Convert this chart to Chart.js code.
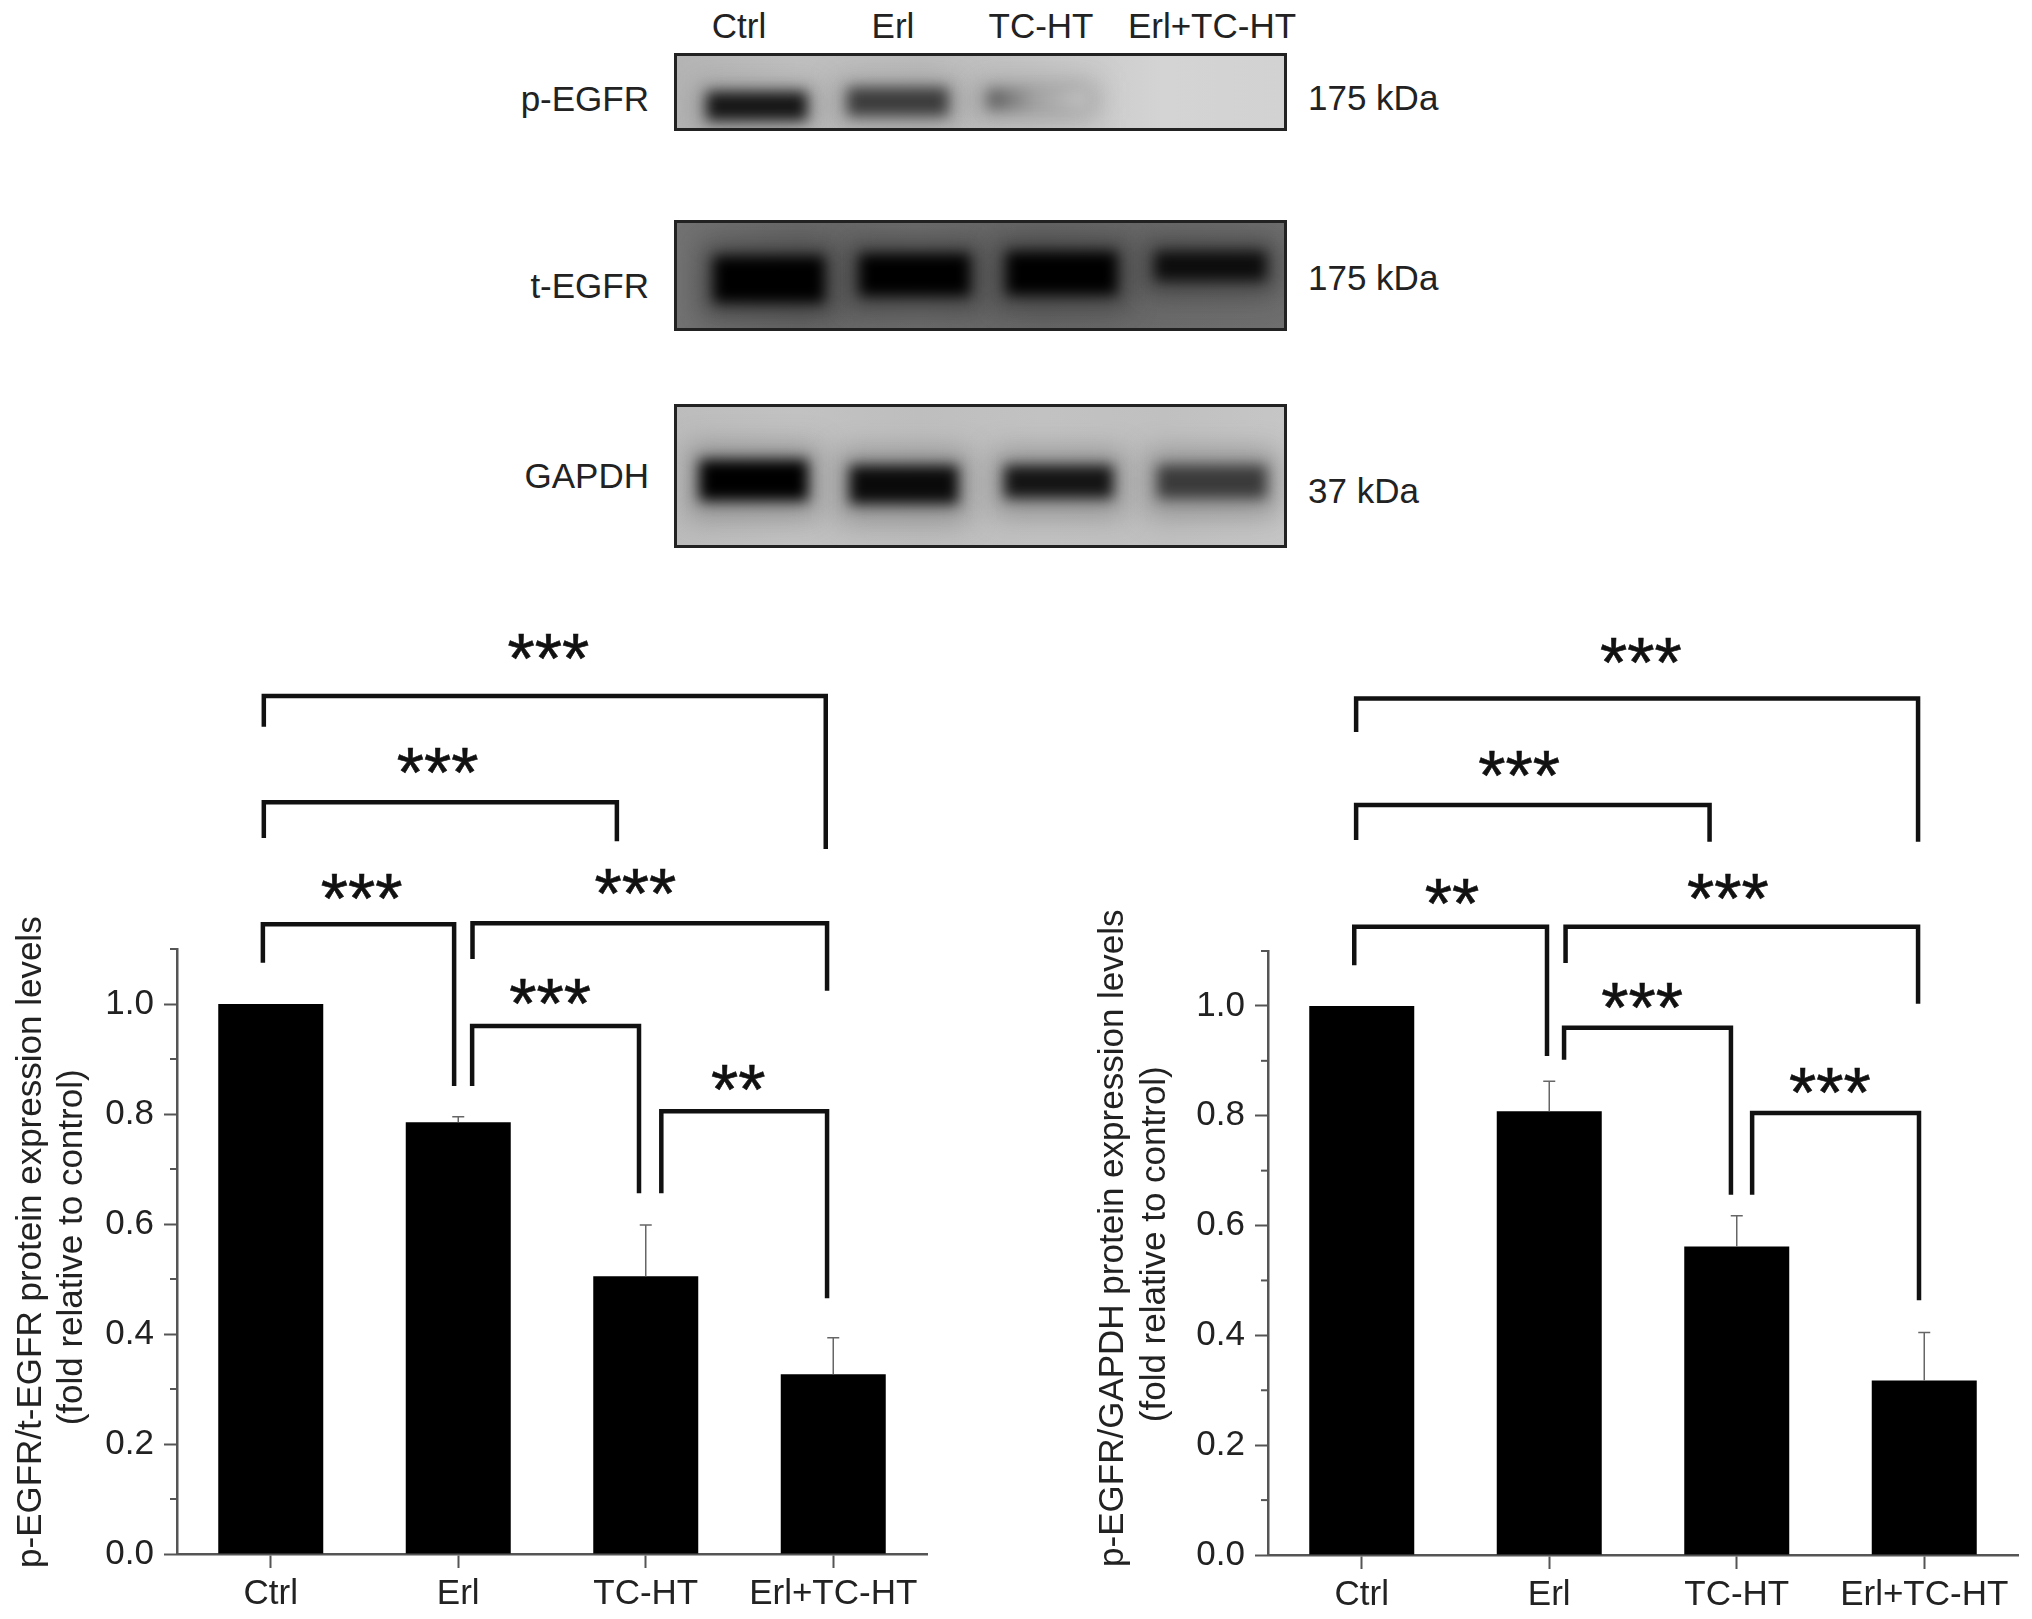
<!DOCTYPE html>
<html>
<head>
<meta charset="utf-8">
<title>p-EGFR western blot and quantification</title>
<script src="https://cdn.jsdelivr.net/npm/chart.js@4"></script>
<style>
    html, body { margin: 0; background: #fff; }
    body { position: relative; width: 2032px; height: 1619px; overflow: hidden; }
    canvas { position: absolute; }
    .lbl { position: absolute; font: 35px "Liberation Sans", Arial, sans-serif; color: #222; line-height: 40px; white-space: nowrap; }
</style>
</head>
<body>
<canvas id="blotP" style="left:674px;top:53px"></canvas>
<canvas id="blotT" style="left:674px;top:220px"></canvas>
<canvas id="blotG" style="left:674px;top:404px"></canvas>
<canvas id="barsLeft" style="left:0;top:600px"></canvas>
<canvas id="barsRight" style="left:1000px;top:600px"></canvas>

<script>
const categories = ['Ctrl', 'Erl', 'TC-HT', 'Erl+TC-HT'];
const yTicks = [0, 0.2, 0.4, 0.6, 0.8, 1.0];
const minorTicks = [0.1, 0.3, 0.5, 0.7, 0.9, 1.1];

// bar heights and upper error limits
const leftValues = [1.0, 0.785, 0.505, 0.327];
const leftErrTops = [null, 0.795, 0.598, 0.393];
const rightValues = [1.0, 0.808, 0.562, 0.318];
const rightErrTops = [null, 0.863, 0.618, 0.405];

// brackets: from lane, to lane, top, left foot, right foot (lane index / axis value)
const leftBrackets = [
    [-0.037, 2.96, 1.56, 1.504, 1.282],
    [-0.037, 1.846, 1.367, 1.302, 1.296],
    [-0.042, 0.978, 1.145, 1.075, 0.851],
    [1.076, 2.967, 1.147, 1.082, 1.024],
    [1.074, 1.964, 0.96, 0.851, 0.656],
    [2.083, 2.967, 0.805, 0.656, 0.465]
];
const rightBrackets = [
    [-0.03, 2.967, 1.56, 1.499, 1.299],
    [-0.03, 1.855, 1.366, 1.302, 1.299],
    [-0.04, 0.988, 1.144, 1.074, 0.909],
    [1.087, 2.967, 1.144, 1.078, 1.004],
    [1.079, 1.969, 0.96, 0.902, 0.656],
    [2.082, 2.972, 0.805, 0.656, 0.464]
];
// significance stars: text, lane, axis value
const leftStars = [
    ['***', 1.481, 1.647], ['***', 0.89, 1.44], ['***', 0.485, 1.211],
    ['***', 1.945, 1.22], ['***', 1.49, 1.02], ['**', 2.493, 0.865]
];
const rightStars = [
    ['***', 1.489, 1.645], ['***', 0.839, 1.439], ['**', 0.481, 1.206],
    ['***', 1.953, 1.215], ['***', 1.495, 1.016], ['***', 2.497, 0.862]
];

// blot bands, one per lane: lane position, then top and bottom as fractions of the blot height
const pLanes = [0.54, 1.46, 2.37, 3.5];
const pBandTops = [0.50, 0.45, 0.47, null];
const pBandBottoms = [0.86, 0.80, 0.72, null];
const tLanes = [0.62, 1.57, 2.53, 3.5];
const tBandTops = [0.33, 0.31, 0.29, 0.29];
const tBandBottoms = [0.74, 0.68, 0.67, 0.54];
const gLanes = [0.52, 1.50, 2.51, 3.51];
const gBandTops = [0.39, 0.43, 0.43, 0.43];
const gBandBottoms = [0.67, 0.69, 0.65, 0.65];

const FONT = '"Liberation Sans", Arial, sans-serif';

function addLabel(text, x, y, align) {
    const el = document.createElement('div');
    el.className = 'lbl';
    el.textContent = text;
    el.style.top = (y - 20) + 'px';
    if (align === 'right') el.style.right = (2032 - x) + 'px';
    else if (align === 'left') el.style.left = x + 'px';
    else { el.style.left = x + 'px'; el.style.transform = 'translateX(-50%)'; }
    document.body.appendChild(el);
}

// Blot: floating bars on a lane axis, blurred so they read as bands
function makeBlot(id, width, height, lanes, tops, bottoms, colors, thickness, haloColor, bgStops) {
    const canvas = document.getElementById(id);
    canvas.width = width;
    canvas.height = height;
    const bands = lanes.map((x, i) => ({ x: x, y: tops[i] === null ? null : [tops[i], bottoms[i]] }));
    const halo = lanes.map((x, i) => ({ x: x, y: tops[i] === null ? null : [tops[i] - 0.1, bottoms[i] + 0.12] }));
    new Chart(canvas, {
        type: 'bar',
        data: {
            datasets: [
                { data: bands, backgroundColor: colors, barThickness: thickness, grouped: false },
                { data: halo, backgroundColor: haloColor, barThickness: thickness + 22, grouped: false }
            ]
        },
        options: {
            responsive: false,
            animation: false,
            devicePixelRatio: 1,
            layout: { padding: 0 },
            plugins: { legend: { display: false }, tooltip: { enabled: false } },
            scales: {
                x: { type: 'linear', display: false, min: 0, max: 4, offset: false },
                y: { display: false, min: 0, max: 1, reverse: true }
            }
        },
        plugins: [{
            id: 'blotLook',
            beforeDraw(chart) {
                const ctx = chart.ctx;
                const g = ctx.createLinearGradient(0, 0, width, 0);
                bgStops.forEach((c, i) => g.addColorStop(i / (bgStops.length - 1), c));
                ctx.fillStyle = g;
                ctx.fillRect(0, 0, width, height);
            },
            beforeDatasetDraw(chart, args) {
                chart.ctx.filter = args.index === 0 ? 'blur(7px)' : 'blur(14px)';
            },
            afterDatasetDraw(chart) {
                chart.ctx.filter = 'none';
            },
            afterDraw(chart) {
                const ctx = chart.ctx;
                ctx.strokeStyle = '#222';
                ctx.lineWidth = 3;
                ctx.strokeRect(1.5, 1.5, width - 3, height - 3);
            }
        }]
    });
}

// Bar panel with error bars, minor ticks, brackets and stars
function makeBars(id, width, plotTop, xHeight, yWidth, padRight, values, errTops, brackets, stars, titleLines, titleXs, titleVals) {
    const canvas = document.getElementById(id);
    canvas.width = width;
    canvas.height = 1019;
    new Chart(canvas, {
        type: 'bar',
        data: {
            labels: categories,
            datasets: [{
                data: values,
                backgroundColor: '#000',
                categoryPercentage: 1,
                barPercentage: 0.56
            }]
        },
        options: {
            responsive: false,
            animation: false,
            devicePixelRatio: 1,
            layout: { padding: { top: plotTop, right: padRight, left: 0, bottom: 0 } },
            plugins: { legend: { display: false }, tooltip: { enabled: false } },
            scales: {
                x: {
                    afterFit(scale) { scale.height = xHeight; },
                    grid: { offset: false, drawOnChartArea: false, tickLength: 14, tickColor: '#555', tickWidth: 2 },
                    border: { color: '#555', width: 2.5 },
                    ticks: { color: '#222', font: { family: FONT, size: 35 }, padding: 5, autoSkip: false, maxRotation: 0 }
                },
                y: {
                    min: 0,
                    max: 1.1,
                    afterFit(scale) { scale.width = yWidth; },
                    afterBuildTicks(scale) { scale.ticks = yTicks.map(v => ({ value: v })); },
                    grid: { drawOnChartArea: false, tickLength: 13, tickColor: '#555', tickWidth: 2 },
                    border: { color: '#555', width: 2.5 },
                    ticks: {
                        color: '#222',
                        font: { family: FONT, size: 35 },
                        padding: 10,
                        callback: v => v.toFixed(1)
                    }
                }
            }
        },
        plugins: [{
            id: 'panelMarks',
            afterDraw(chart) {
                const ctx = chart.ctx;
                const xs = chart.scales.x;
                const ys = chart.scales.y;
                const left = chart.chartArea.left;

                // minor y ticks
                ctx.strokeStyle = '#555';
                ctx.lineWidth = 2;
                minorTicks.forEach(v => {
                    const y = ys.getPixelForValue(v);
                    ctx.beginPath();
                    ctx.moveTo(left - 7, y);
                    ctx.lineTo(left, y);
                    ctx.stroke();
                });

                // upper error bars
                ctx.strokeStyle = '#666';
                ctx.lineWidth = 1.5;
                errTops.forEach((top, i) => {
                    if (top === null) return;
                    const x = xs.getPixelForValue(i);
                    const y = ys.getPixelForValue(top);
                    ctx.beginPath();
                    ctx.moveTo(x, ys.getPixelForValue(values[i]));
                    ctx.lineTo(x, y);
                    ctx.moveTo(x - 6, y);
                    ctx.lineTo(x + 6, y);
                    ctx.stroke();
                });

                const laneX = v => xs.getPixelForValue(0) + v * (xs.getPixelForValue(1) - xs.getPixelForValue(0));

                // brackets
                ctx.strokeStyle = '#111';
                ctx.lineWidth = 4.5;
                ctx.lineJoin = 'miter';
                brackets.forEach(b => {
                    ctx.beginPath();
                    ctx.moveTo(laneX(b[0]), ys.getPixelForValue(b[3]));
                    ctx.lineTo(laneX(b[0]), ys.getPixelForValue(b[2]));
                    ctx.lineTo(laneX(b[1]), ys.getPixelForValue(b[2]));
                    ctx.lineTo(laneX(b[1]), ys.getPixelForValue(b[4]));
                    ctx.stroke();
                });

                // stars
                ctx.fillStyle = '#111';
                ctx.strokeStyle = '#111';
                ctx.lineWidth = 0.6;
                ctx.font = '70px ' + FONT;
                ctx.textAlign = 'center';
                ctx.textBaseline = 'middle';
                stars.forEach(s => {
                    const sx = laneX(s[1]);
                    const sy = ys.getPixelForValue(s[2]) + 16;
                    ctx.fillText(s[0], sx, sy);
                    ctx.strokeText(s[0], sx, sy);
                });

                // two line rotated axis title
                ctx.fillStyle = '#222';
                ctx.font = '35px ' + FONT;
                titleLines.forEach((line, i) => {
                    ctx.save();
                    ctx.translate(titleXs[i], ys.getPixelForValue(titleVals[i]));
                    ctx.rotate(-Math.PI / 2);
                    ctx.fillText(line, 0, 0);
                    ctx.restore();
                });
            }
        }]
    });
}

document.addEventListener('DOMContentLoaded', () => {
    const grad = document.getElementById('blotP').getContext('2d').createLinearGradient(318, 0, 410, 0);
    grad.addColorStop(0.05, '#666');
    grad.addColorStop(0.45, '#a0a0a0');
    grad.addColorStop(1, '#c0c0c0');

    makeBlot('blotP', 613, 78, pLanes, pBandTops, pBandBottoms, ['#161616', '#3c3c3c', grad, '#ccc'], 100, 'rgba(90,90,90,0.35)',
        ['#b4b4b4', '#c0c0c0', '#bcbcbc', '#c6c6c6', '#d4d4d4', '#d2d2d2']);
    makeBlot('blotT', 613, 111, tLanes, tBandTops, tBandBottoms, ['#000', '#000', '#000', '#0c0c0c'], 110, 'rgba(30,30,30,0.5)',
        ['#727272', '#686868', '#6c6c6c', '#666', '#6a6a6a', '#6e6e6e']);
    makeBlot('blotG', 613, 144, gLanes, gBandTops, gBandBottoms, ['#000', '#0a0a0a', '#141414', '#3a3a3a'], 108, 'rgba(70,70,70,0.4)',
        ['#bcbcbc', '#c2c2c2', '#bebebe', '#c2c2c2', '#c0c0c0', '#c6c6c6']);

    categories.forEach((c, i) => addLabel(c, [739, 893, 1041, 1212][i], 26, 'center'));
    addLabel('p-EGFR', 649, 99, 'right');
    addLabel('t-EGFR', 649, 286, 'right');
    addLabel('GAPDH', 649, 476, 'right');
    addLabel('175 kDa', 1308, 98, 'left');
    addLabel('175 kDa', 1308, 278, 'left');
    addLabel('37 kDa', 1308, 491, 'left');

    makeBars('barsLeft', 1000, 349, 65, 177, 73, leftValues, leftErrTops, leftBrackets, leftStars,
        ['p-EGFR/t-EGFR protein expression levels', '(fold relative to control)'], [31, 72], [0.567, 0.5575]);
    makeBars('barsRight', 1032, 351, 64, 268, 14, rightValues, rightErrTops, rightBrackets, rightStars,
        ['p-EGFR/GAPDH protein expression levels', '(fold relative to control)'], [113, 155], [0.577, 0.566]);
});
</script>
</body>
</html>
